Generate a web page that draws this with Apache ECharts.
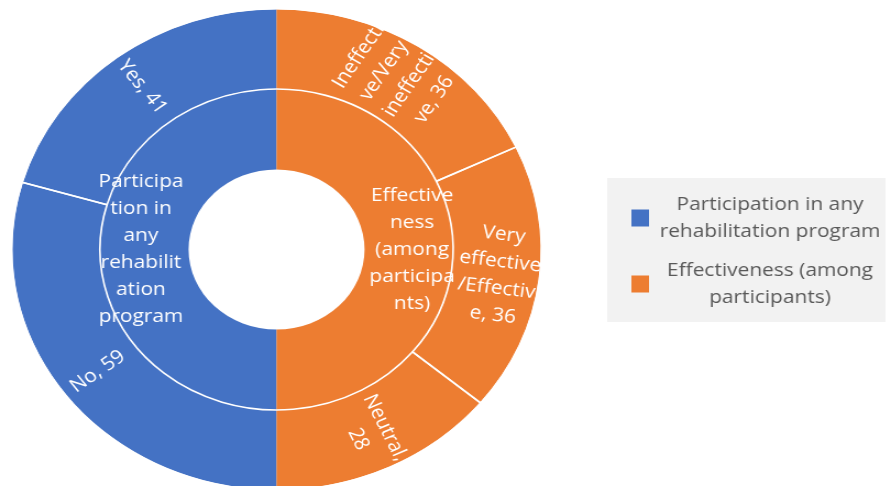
<!DOCTYPE html>
<html>
<head>
<meta charset="utf-8">
<script src="https://cdn.jsdelivr.net/npm/echarts@6/dist/echarts.min.js"></script>
<style>
html,body{margin:0;padding:0;background:#fff;overflow:hidden;}
#wrap{width:887px;height:486px;overflow:hidden;position:relative;}
#chart{width:806px;height:486px;transform:scaleX(1.1);transform-origin:0 0;position:absolute;left:0;top:0;}
</style>
</head>
<body>
<div id="wrap"><div id="chart"></div></div>
<script>
// ---- data ----
const groupNames = ['Participation in any rehabilitation program', 'Effectiveness (among participants)'];
const groupColors = ['#4472C4', '#ED7D31'];
const groupLabelText = ['Participa\ntion in\nany\nrehabilit\nation\nprogram', 'Effective\nness\n(among\nparticipa\nnts)'];
const legendText = ['Participation in any\nrehabilitation program', 'Effectiveness (among\nparticipants)'];

const participationNames = ['Yes', 'No'];
const participationValues = [41, 59];
const participationLabelText = ['Yes, {c}', 'No, {c}'];

const effectivenessNames = ['Ineffective/Very ineffective', 'Very effective/Effective', 'Neutral'];
const effectivenessValues = [36, 36, 28];
const effectivenessLabelText = ['Ineffecti\nve/Very\nineffecti\nve, {c}', 'Very\neffective\n/Effectiv\ne, {c}', 'Neutral,\n{c}'];

// ---- build ----
const sum = a => a.reduce((s, v) => s + v, 0);
const pTotal = sum(participationValues), eTotal = sum(effectivenessValues);
const innerData = [
  { name: groupNames[0], value: pTotal, itemStyle: { color: groupColors[0] }, label: { formatter: groupLabelText[0] } },
  { name: groupNames[1], value: eTotal, itemStyle: { color: groupColors[1] }, label: { formatter: groupLabelText[1] } }
];
// outer ring runs counter-clockwise from the top: participation children, then effectiveness children reversed
const outerData = [];
participationNames.forEach((n, i) => outerData.push({ name: n, value: participationValues[i], itemStyle: { color: groupColors[0] }, label: { formatter: participationLabelText[i] } }));
for (let i = effectivenessNames.length - 1; i >= 0; i--) {
  outerData.push({ name: effectivenessNames[i], value: effectivenessValues[i], itemStyle: { color: groupColors[1] }, label: { formatter: effectivenessLabelText[i] } });
}
// separator overlay: boundaries only between children, not at the seam between the two groups
const half = 360 * pTotal / (pTotal + eTotal);
const sepStart = 90 + 360 * participationValues[0] / (pTotal + eTotal);
const sepData = [];
{
  // walk the outer sequence starting after the first child; merge across the two group seams
  const seq = outerData.map((d, i) => ({ v: d.value, g: i < participationValues.length ? 0 : 1 }));
  const rot = seq.slice(1).concat(seq.slice(0, 1));
  let acc = rot[0].v, prevG = rot[0].g;
  for (let i = 1; i < rot.length; i++) {
    if (rot[i].g !== prevG) { acc += rot[i].v; prevG = rot[i].g; }
    else { sepData.push({ name: '_sep' + i, value: acc }); acc = rot[i].v; prevG = rot[i].g; }
  }
  sepData.push({ name: '_sepEnd', value: acc });
}

const FONT = '"Open Sans", "Noto Sans", sans-serif';
const CENTER = [251.4, 249.5];
const chart = echarts.init(document.getElementById('chart'));
chart.setOption({
  backgroundColor: '#fff',
  animation: false,
  legend: {
    data: groupNames,
    orient: 'vertical',
    left: 552,
    top: 178,
    width: 254,
    padding: [17, 0, 15, 22],
    itemGap: 20,
    itemWidth: 16,
    itemHeight: 17,
    icon: 'rect',
    backgroundColor: '#f2f2f2',
    selectedMode: false,
    formatter: function (name) {
      const t = legendText[groupNames.indexOf(name)];
      return t.split('\n').map(l => '{a|' + l + '}').join('\n');
    },
    textStyle: {
      fontFamily: FONT,
      color: '#595959',
      fontSize: 19,
      rich: { a: { fontFamily: FONT, color: '#595959', fontSize: 19, lineHeight: 27, width: 210, align: 'center' } }
    }
  },
  series: [
    {
      type: 'pie',
      center: CENTER,
      radius: [80, 160.5],
      startAngle: 90,
      clockwise: false,
      avoidLabelOverlap: false,
      emphasis: { disabled: true },
      silent: true,
      itemStyle: { borderWidth: 0 },
      label: { show: true, position: 'inside', color: '#fff', fontFamily: FONT, fontSize: 19, lineHeight: 27, align: 'center' },
      labelLine: { show: false },
      labelLayout: { hideOverlap: false },
      data: innerData
    },
    {
      type: 'pie',
      center: CENTER,
      radius: [160.5, 240],
      startAngle: 90,
      clockwise: false,
      avoidLabelOverlap: false,
      emphasis: { disabled: true },
      silent: true,
      itemStyle: { borderWidth: 0 },
      label: { show: true, position: 'inside', rotate: 'radial', color: '#fff', fontFamily: FONT, fontSize: 19, lineHeight: 27, align: 'center' },
      labelLine: { show: false },
      labelLayout: { hideOverlap: false },
      data: outerData
    },
    {
      type: 'pie',
      center: CENTER,
      radius: [160.5, 241],
      startAngle: sepStart,
      clockwise: false,
      emphasis: { disabled: true },
      silent: true,
      z: 3,
      itemStyle: { color: 'rgba(0,0,0,0)', borderColor: '#fff', borderWidth: 1.6 },
      label: { show: false },
      labelLine: { show: false },
      data: sepData
    }
  ]
});
</script>
</body>
</html>
